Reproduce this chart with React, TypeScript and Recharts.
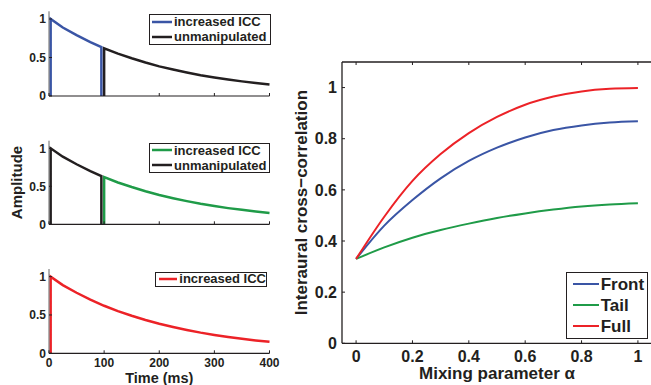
import React from 'react';
import { LineChart, Line, XAxis, YAxis, Legend } from 'recharts';

// ---------- data ----------
const timeTicks = [0, 100, 200, 300, 400];
const ampTicks = [0, 0.5, 1];

const frontT = [3, 3, 25, 50, 75, 95, 95];
const frontV = [0, 1, 0.89, 0.79, 0.7, 0.635, 0];

const tailT = [100, 100, 125, 150, 175, 200, 225, 250, 275, 300, 325, 350, 375, 400];
const tailV = [0, 0.62, 0.55, 0.49, 0.435, 0.385, 0.343, 0.305, 0.27, 0.24, 0.213, 0.19, 0.168, 0.15];

const fullT = [3, 3, 25, 50, 75, 100, 125, 150, 175, 200, 225, 250, 275, 300, 325, 350, 375, 400];
const fullV = [0, 1, 0.89, 0.79, 0.7, 0.62, 0.55, 0.49, 0.435, 0.385, 0.343, 0.305, 0.27, 0.24, 0.213, 0.19, 0.168, 0.15];

const mixing = [0, 0.1, 0.2, 0.3, 0.4, 0.5, 0.6, 0.7, 0.8, 0.9, 1];
const frontICC = [0.33, 0.46, 0.56, 0.645, 0.713, 0.765, 0.805, 0.834, 0.852, 0.863, 0.868];
const tailICC = [0.33, 0.375, 0.413, 0.443, 0.468, 0.49, 0.508, 0.523, 0.535, 0.543, 0.548];
const fullICC = [0.33, 0.495, 0.635, 0.74, 0.822, 0.885, 0.933, 0.965, 0.985, 0.995, 0.998];

const mixTicks = [0, 0.2, 0.4, 0.6, 0.8, 1];
const iccTicks = [0, 0.2, 0.4, 0.6, 0.8, 1];
const iccLegendOrder = ['Front', 'Tail', 'Full'];

// ---------- styles ----------
const INK = '#231f20';
const BLUE = '#3a55a5';
const GREEN = '#1f9b48';
const RED = '#ec2227';
const BLACK = '#231f20';
const FONT = "'Liberation Sans', Arial, Helvetica, sans-serif";

const zip = (ts: number[], vs: number[]) => ts.map((t, i) => ({ t, v: vs[i] }));
const frontData = zip(frontT, frontV);
const tailData = zip(tailT, tailV);
const fullData = zip(fullT, fullV);
const iccData = mixing.map((a, i) => ({ a, front: frontICC[i], tail: tailICC[i], full: fullICC[i] }));

const fmt = (v: number) => String(v);

const mkBottomTick = (len: number, show: boolean, fs: number, dy: number) => (p: any) => (
  <g>
    <line x1={p.x} y1={p.y} x2={p.x} y2={p.y - len} stroke={INK} strokeWidth={1} />
    {show && (
      <text x={p.x} y={p.y + dy} textAnchor="middle" fontSize={fs} fontWeight="bold" fontFamily={FONT} fill={INK}>
        {fmt(p.payload.value)}
      </text>
    )}
  </g>
);

const mkLeftTick = (len: number, fs: number, dx: number) => (p: any) => (
  <g>
    <line x1={p.x} y1={p.y} x2={p.x + len} y2={p.y} stroke={INK} strokeWidth={1} />
    <text x={p.x - dx} y={p.y} dy="0.36em" textAnchor="end" fontSize={fs} fontWeight="bold" fontFamily={FONT} fill={INK}>
      {fmt(p.payload.value)}
    </text>
  </g>
);

const mkTopTick = (len: number) => (p: any) => (
  <line x1={p.x} y1={p.y} x2={p.x} y2={p.y + len} stroke={INK} strokeWidth={1} />
);

const mkRightTick = (len: number) => (p: any) => (
  <line x1={p.x} y1={p.y} x2={p.x - len} y2={p.y} stroke={INK} strokeWidth={1} />
);

const mkLegend = (fs: number, rowH: number, lineW: number, sw: number, padL: number, gap: number, order?: string[]) => (props: any) => {
  let payload = [...(props.payload || [])];
  if (order) payload.sort((a: any, b: any) => order.indexOf(a.value) - order.indexOf(b.value));
  return (
    <div
      style={{
        width: '100%',
        height: '100%',
        boxSizing: 'border-box',
        border: `1px solid ${INK}`,
        background: '#fff',
        display: 'flex',
        flexDirection: 'column',
        justifyContent: 'center',
        paddingLeft: padL,
      }}
    >
      {payload.map((e: any, i: number) => (
        <div key={i} style={{ height: rowH, display: 'flex', alignItems: 'center' }}>
          <svg width={lineW} height={6} style={{ display: 'block' }}>
            <line x1={0} y1={3} x2={lineW} y2={3} stroke={e.color} strokeWidth={sw} />
          </svg>
          <span
            style={{
              marginLeft: gap,
              fontFamily: FONT,
              fontWeight: 'bold',
              fontSize: fs,
              color: INK,
              lineHeight: `${rowH}px`,
              whiteSpace: 'nowrap',
            }}
          >
            {e.value}
          </span>
        </div>
      ))}
    </div>
  );
};

const leftAxisLine = { stroke: '#666', strokeWidth: 1 };
const bottomAxisLine = { stroke: INK, strokeWidth: 1.2 };

export default function App() {
  return (
    <div style={{ position: 'absolute', left: 0, top: 0, width: 651, height: 385, overflow: 'hidden', background: '#fff' }}>
      {/* Panel 1 */}
      <div style={{ position: 'absolute', left: 0, top: 0 }}>
        <LineChart width={285} height={110} margin={{ top: 11.3, right: 15.5, bottom: 0, left: 9 }}>
          <XAxis dataKey="t" type="number" domain={[0, 400]} ticks={timeTicks} interval={0} height={14}
            tickSize={0} tickMargin={0} tickLine={false} axisLine={bottomAxisLine} tick={mkBottomTick(3, false, 12, 15)} />
          <YAxis type="number" domain={[0, 1.1]} ticks={ampTicks} interval={0} width={40}
            tickSize={0} tickMargin={0} tickLine={false} axisLine={leftAxisLine} tick={mkLeftTick(3, 12, 3)} />
          <Line data={frontData} dataKey="v" name="increased ICC" type="linear" stroke={BLUE} strokeWidth={2.5} dot={false} isAnimationActive={false} />
          <Line data={tailData} dataKey="v" name="unmanipulated" type="linear" stroke={BLACK} strokeWidth={2.5} dot={false} isAnimationActive={false} />
          <Legend layout="horizontal" verticalAlign="middle" align="center"
            wrapperStyle={{ left: 149, top: 14, width: 122, height: 30.5 }}
            content={mkLegend(13, 15, 20, 2.5, 2, 2)} />
        </LineChart>
      </div>

      {/* Panel 2 */}
      <div style={{ position: 'absolute', left: 0, top: 128 }}>
        <LineChart width={285} height={110} margin={{ top: 12.7, right: 15.5, bottom: 3.7, left: 9 }}>
          <XAxis dataKey="t" type="number" domain={[0, 400]} ticks={timeTicks} interval={0} height={10}
            tickSize={0} tickMargin={0} tickLine={false} axisLine={bottomAxisLine} tick={mkBottomTick(3, false, 12, 15)} />
          <YAxis type="number" domain={[0, 1.1]} ticks={ampTicks} interval={0} width={40}
            tickSize={0} tickMargin={0} tickLine={false} axisLine={leftAxisLine} tick={mkLeftTick(3, 12, 3)}
            label={{ value: 'Amplitude', angle: -90, position: 'insideLeft', offset: 8,
              style: { textAnchor: 'middle', fontFamily: FONT, fontWeight: 'bold', fontSize: 15, fill: INK } }} />
          <Line data={tailData} dataKey="v" name="increased ICC" type="linear" stroke={GREEN} strokeWidth={2.5} dot={false} isAnimationActive={false} />
          <Line data={frontData} dataKey="v" name="unmanipulated" type="linear" stroke={BLACK} strokeWidth={2.5} dot={false} isAnimationActive={false} />
          <Legend layout="horizontal" verticalAlign="middle" align="center"
            wrapperStyle={{ left: 149, top: 14.7, width: 121, height: 30.6 }}
            content={mkLegend(13, 15, 20, 2.5, 2, 2)} />
        </LineChart>
      </div>

      {/* Panel 3 */}
      <div style={{ position: 'absolute', left: 0, top: 255 }}>
        <LineChart width={285} height={130} margin={{ top: 14, right: 15.5, bottom: 21.7, left: 9 }}>
          <XAxis dataKey="t" type="number" domain={[0, 400]} ticks={timeTicks} interval={0} height={10}
            tickSize={0} tickMargin={0} tickLine={false} axisLine={bottomAxisLine} tick={mkBottomTick(3, true, 12, 13.5)}
            label={{ value: 'Time (ms)', position: 'bottom', offset: 9,
              style: { fontFamily: FONT, fontWeight: 'bold', fontSize: 14.5, fill: INK } }} />
          <YAxis type="number" domain={[0, 1.1]} ticks={ampTicks} interval={0} width={40}
            tickSize={0} tickMargin={0} tickLine={false} axisLine={leftAxisLine} tick={mkLeftTick(3, 12, 3)} />
          <Line data={fullData} dataKey="v" name="increased ICC" type="linear" stroke={RED} strokeWidth={2.5} dot={false} isAnimationActive={false} />
          <Legend layout="horizontal" verticalAlign="middle" align="center"
            wrapperStyle={{ left: 155, top: 16.7, width: 112, height: 15.5 }}
            content={mkLegend(13, 14, 19, 2.5, 3, 2)} />
        </LineChart>
      </div>

      {/* Right panel */}
      <div style={{ position: 'absolute', left: 280, top: 40 }}>
        <LineChart width={380} height={345} data={iccData} margin={{ top: 21, right: 7, bottom: 21.7, left: 10 }}>
          <XAxis dataKey="a" type="number" domain={[-0.05, 1.05]} ticks={mixTicks} interval={0} height={20}
            tickSize={0} tickMargin={0} tickLine={false} axisLine={{ stroke: INK, strokeWidth: 1.3 }} tick={mkBottomTick(3, true, 16, 18.5)}
            label={{ value: 'Mixing parameter α', position: 'bottom', offset: 3.8,
              style: { fontFamily: FONT, fontWeight: 'bold', fontSize: 17, fill: INK } }} />
          <XAxis xAxisId="top" orientation="top" dataKey="a" type="number" domain={[-0.05, 1.05]} ticks={mixTicks} interval={0} height={1}
            tickSize={0} tickMargin={0} tickLine={false} axisLine={{ stroke: INK, strokeWidth: 1.3 }} tick={mkTopTick(3)} />
          <YAxis type="number" domain={[0, 1.1]} ticks={iccTicks} interval={0} width={52}
            tickSize={0} tickMargin={0} tickLine={false} axisLine={{ stroke: INK, strokeWidth: 1.3 }} tick={mkLeftTick(3, 16, 5)}
            label={{ value: 'Interaural cross−correlation', angle: -90, position: 'insideLeft', offset: 11,
              style: { textAnchor: 'middle', fontFamily: FONT, fontWeight: 'bold', fontSize: 17, fill: INK } }} />
          <YAxis yAxisId="right" orientation="right" type="number" domain={[0, 1.1]} ticks={iccTicks} interval={0} width={1}
            tickSize={0} tickMargin={0} tickLine={false} axisLine={{ stroke: INK, strokeWidth: 1.3 }} tick={mkRightTick(3)} />
          <Line dataKey="front" name="Front" type="monotone" stroke={BLUE} strokeWidth={2} dot={false} isAnimationActive={false} />
          <Line dataKey="tail" name="Tail" type="monotone" stroke={GREEN} strokeWidth={2} dot={false} isAnimationActive={false} />
          <Line dataKey="full" name="Full" type="monotone" stroke={RED} strokeWidth={2} dot={false} isAnimationActive={false} />
          <Legend layout="horizontal" verticalAlign="middle" align="center"
            wrapperStyle={{ left: 285.7, top: 231.7, width: 82.5, height: 67.6 }}
            content={mkLegend(17, 21, 26, 2, 6, 2, iccLegendOrder)} />
        </LineChart>
      </div>
    </div>
  );
}
